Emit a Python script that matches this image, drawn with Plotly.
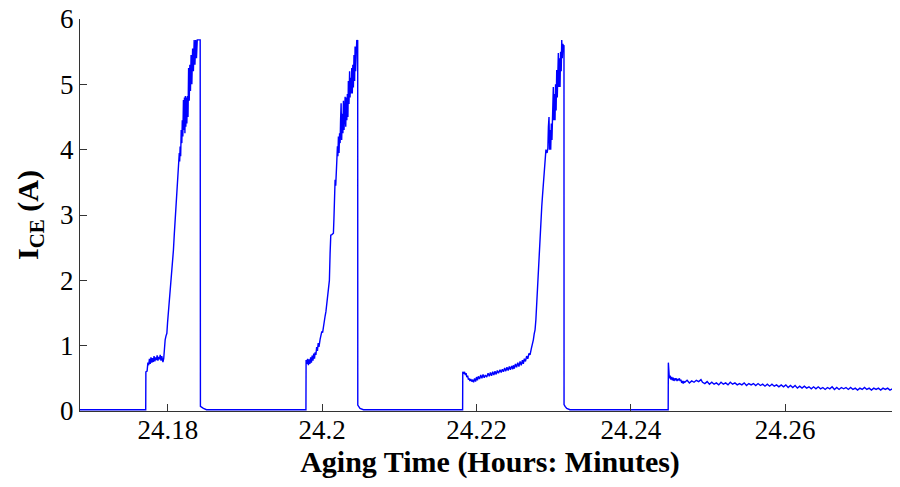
import plotly.graph_objects as go

# ---- data (time in hours, current in A) ----
baseline_start_t = [24.16860, 24.17712]
baseline_start_i = [0.02, 0.02]

pulse1_t = [24.17714, 24.17730, 24.17740, 24.17750, 24.17760, 24.17770, 24.17780, 24.17790,
            24.17800, 24.17810, 24.17820, 24.17830, 24.17840, 24.17850, 24.17860, 24.17870,
            24.17880, 24.17890, 24.17900, 24.17910, 24.17920, 24.17935, 24.17945, 24.17955,
            24.17964, 24.17975, 24.17986, 24.17995, 24.18006, 24.18018, 24.18029, 24.18040,
            24.18051, 24.18061, 24.18071, 24.18082, 24.18093, 24.18104, 24.18115, 24.18125,
            24.18136, 24.18147, 24.18152, 24.18158, 24.18165, 24.18172, 24.18180, 24.18186,
            24.18193, 24.18201, 24.18208, 24.18214, 24.18220, 24.18226, 24.18232, 24.18238,
            24.18245, 24.18252, 24.18260, 24.18268, 24.18276, 24.18284, 24.18292, 24.18300,
            24.18310, 24.18320, 24.18330, 24.18340, 24.18350, 24.18360, 24.18370, 24.18380,
            24.18395, 24.18410, 24.18418, 24.18421, 24.18440, 24.18460, 24.18500]
pulse1_i = [0.60, 0.61, 0.74, 0.70, 0.80, 0.72, 0.82, 0.74,
            0.81, 0.75, 0.84, 0.76, 0.82, 0.78, 0.85, 0.77,
            0.83, 0.79, 0.86, 0.77, 0.84, 0.75, 0.80, 1.00,
            1.09, 1.15, 1.19, 1.35, 1.50, 1.72, 1.90, 1.98,
            2.08, 2.30, 2.46, 2.70, 2.92, 3.15, 3.38, 3.55,
            3.74, 3.95, 3.82, 4.05, 3.90, 4.30, 4.10, 4.45,
            4.20, 4.76, 4.30, 4.80, 4.25, 4.82, 4.35, 4.80,
            4.40, 4.82, 4.50, 5.25, 4.75, 5.30, 4.90, 5.45,
            5.00, 5.55, 5.20, 5.68, 5.30, 5.68, 5.40, 5.68,
            5.68, 5.68, 5.68, 0.07, 0.05, 0.04, 0.02]

pulse2_t = [24.19789, 24.19791, 24.19800, 24.19810, 24.19821, 24.19830, 24.19840, 24.19850,
            24.19860, 24.19870, 24.19880, 24.19890, 24.19900, 24.19908, 24.19918, 24.19928,
            24.19938, 24.19948, 24.19958, 24.19973, 24.19985, 24.19995, 24.20005, 24.20015,
            24.20025, 24.20037, 24.20048, 24.20059, 24.20070, 24.20080, 24.20093, 24.20102,
            24.20111, 24.20125, 24.20145, 24.20152, 24.20158, 24.20167, 24.20175, 24.20182,
            24.20190, 24.20197, 24.20203, 24.20210, 24.20218, 24.20225, 24.20232, 24.20238,
            24.20245, 24.20252, 24.20260, 24.20268, 24.20275, 24.20283, 24.20290, 24.20297,
            24.20305, 24.20312, 24.20319, 24.20326, 24.20333, 24.20339, 24.20347, 24.20355,
            24.20361, 24.20368, 24.20376, 24.20383, 24.20390, 24.20397, 24.20404, 24.20412,
            24.20420, 24.20426, 24.20433, 24.20440, 24.20448, 24.20456, 24.20460, 24.20461,
            24.20469, 24.20490, 24.20534]
pulse2_i = [0.02, 0.78, 0.72, 0.80, 0.70, 0.79, 0.72, 0.82,
            0.74, 0.85, 0.77, 0.88, 0.80, 0.90, 0.86, 0.98,
            0.92, 1.04, 0.98, 1.10, 1.15, 1.22, 1.20, 1.30,
            1.35, 1.45, 1.52, 1.62, 1.72, 1.85, 2.00, 2.41,
            2.69, 2.70, 2.72, 2.95, 3.13, 3.54, 3.45, 3.80,
            3.85, 4.05, 3.90, 4.20, 3.95, 4.25, 4.10, 4.45,
            4.71, 4.15, 4.55, 4.25, 4.75, 4.30, 4.80, 4.81,
            4.35, 4.80, 4.45, 4.85, 4.50, 5.05, 4.70, 5.20,
            4.80, 5.10, 4.86, 5.25, 4.86, 5.30, 4.95, 5.45,
            5.05, 5.58, 5.20, 5.68, 5.68, 5.55, 5.68, 0.09,
            0.07, 0.04, 0.02]

pulse3_t = [24.21820, 24.21822, 24.21835, 24.21845, 24.21855, 24.21865, 24.21874, 24.21885,
            24.21895, 24.21905, 24.21915, 24.21925, 24.21939, 24.21950, 24.21962, 24.21975,
            24.21988, 24.22000, 24.22012, 24.22024, 24.22040, 24.22055, 24.22070, 24.22085,
            24.22100, 24.22115, 24.22133, 24.22150, 24.22165, 24.22180, 24.22195, 24.22210,
            24.22225, 24.22240, 24.22255, 24.22270, 24.22285, 24.22305, 24.22320, 24.22335,
            24.22350, 24.22365, 24.22380, 24.22395, 24.22410, 24.22425, 24.22440, 24.22455,
            24.22470, 24.22478, 24.22490, 24.22505, 24.22520, 24.22535, 24.22550, 24.22565,
            24.22580, 24.22595, 24.22607, 24.22620, 24.22635, 24.22650, 24.22665, 24.22680,
            24.22694, 24.22710, 24.22725, 24.22737, 24.22748, 24.22759, 24.22770, 24.22781,
            24.22792, 24.22802, 24.22813, 24.22824, 24.22835, 24.22846, 24.22856, 24.22867,
            24.22878, 24.22889, 24.22900, 24.22915, 24.22925, 24.22932, 24.22940, 24.22947,
            24.22955, 24.22962, 24.22970, 24.22978, 24.22987, 24.22996, 24.23003, 24.23010,
            24.23018, 24.23025, 24.23032, 24.23040, 24.23047, 24.23054, 24.23061, 24.23068,
            24.23076, 24.23083, 24.23090, 24.23098, 24.23105, 24.23112, 24.23120, 24.23126,
            24.23134, 24.23135, 24.23148, 24.23170, 24.23212]
pulse3_i = [0.02, 0.60, 0.58, 0.60, 0.55, 0.58, 0.52, 0.54,
            0.48, 0.50, 0.46, 0.49, 0.45, 0.48, 0.44, 0.50,
            0.45, 0.52, 0.47, 0.53, 0.49, 0.55, 0.50, 0.56,
            0.51, 0.55, 0.52, 0.58, 0.53, 0.59, 0.54, 0.60,
            0.55, 0.61, 0.56, 0.62, 0.58, 0.63, 0.59, 0.64,
            0.60, 0.66, 0.61, 0.67, 0.62, 0.68, 0.63, 0.69,
            0.64, 0.70, 0.65, 0.72, 0.67, 0.74, 0.68, 0.76,
            0.70, 0.78, 0.72, 0.80, 0.76, 0.84, 0.80, 0.88,
            0.86, 0.95, 1.02, 1.09, 1.18, 1.24, 1.40, 1.65,
            2.00, 2.31, 2.55, 2.72, 2.95, 3.13, 3.30, 3.48,
            3.75, 3.94, 4.00, 3.95, 4.02, 4.35, 4.50, 4.00,
            4.30, 4.00, 4.40, 4.15, 4.80, 4.96, 4.45, 4.85,
            4.45, 5.00, 4.60, 5.22, 4.80, 5.35, 5.48, 4.96,
            5.40, 4.96, 5.50, 5.20, 5.68, 5.40, 5.62, 5.58,
            5.60, 0.10, 0.07, 0.04, 0.02]

pulse4_t = [24.24485, 24.24487, 24.24492, 24.24500, 24.24510, 24.24520, 24.24530, 24.24540,
            24.24550, 24.24560, 24.24570, 24.24580, 24.24590, 24.24600, 24.24610, 24.24620,
            24.24630, 24.24640, 24.24650, 24.24660, 24.24670, 24.24680, 24.24690, 24.24700,
            24.24730, 24.24760, 24.24790, 24.24820, 24.24850, 24.24880, 24.24910, 24.24930,
            24.24960, 24.24990, 24.25020, 24.25050, 24.25080, 24.25110, 24.25140, 24.25170,
            24.25200, 24.25230, 24.25260, 24.25290, 24.25320, 24.25350, 24.25380, 24.25410,
            24.25440, 24.25470, 24.25500, 24.25530, 24.25560, 24.25590, 24.25620, 24.25650,
            24.25680, 24.25710, 24.25740, 24.25770, 24.25800, 24.25830, 24.25860, 24.25890,
            24.25920, 24.25950, 24.25980, 24.26010, 24.26040, 24.26070, 24.26100, 24.26130,
            24.26160, 24.26190, 24.26220, 24.26250, 24.26280, 24.26310, 24.26340, 24.26370,
            24.26400, 24.26430, 24.26460, 24.26490, 24.26520, 24.26550, 24.26580, 24.26610,
            24.26640, 24.26670, 24.26700, 24.26730, 24.26760, 24.26790, 24.26820, 24.26850,
            24.26880, 24.26910, 24.26940, 24.26970, 24.27000, 24.27030, 24.27060, 24.27090,
            24.27120, 24.27150, 24.27180, 24.27210, 24.27240, 24.27270, 24.27300, 24.27330,
            24.27360, 24.27390, 24.27420, 24.27450, 24.27480, 24.27500]
pulse4_i = [0.02, 0.74, 0.55, 0.50, 0.54, 0.48, 0.52, 0.47,
            0.51, 0.46, 0.50, 0.47, 0.50, 0.46, 0.49, 0.47,
            0.50, 0.46, 0.48, 0.43, 0.46, 0.42, 0.45, 0.44,
            0.47, 0.43, 0.46, 0.44, 0.47, 0.45, 0.48, 0.44,
            0.42, 0.45, 0.41, 0.44, 0.41, 0.43, 0.40, 0.44,
            0.41, 0.43, 0.40, 0.44, 0.41, 0.43, 0.40, 0.42,
            0.40, 0.43, 0.39, 0.42, 0.40, 0.42, 0.39, 0.42,
            0.39, 0.41, 0.38, 0.41, 0.38, 0.41, 0.38, 0.40,
            0.37, 0.40, 0.37, 0.40, 0.36, 0.39, 0.36, 0.39,
            0.35, 0.38, 0.35, 0.38, 0.35, 0.37, 0.34, 0.37,
            0.34, 0.37, 0.34, 0.36, 0.33, 0.36, 0.34, 0.37,
            0.33, 0.36, 0.33, 0.36, 0.34, 0.36, 0.33, 0.36,
            0.33, 0.35, 0.32, 0.35, 0.33, 0.36, 0.33, 0.35,
            0.32, 0.35, 0.33, 0.35, 0.32, 0.35, 0.33, 0.35,
            0.32, 0.34, 0.32, 0.35, 0.33, 0.34]

x_ticks = [24.18, 24.20, 24.22, 24.24, 24.26]
x_tick_labels = ["24.18", "24.2", "24.22", "24.24", "24.26"]
y_ticks = [0, 1, 2, 3, 4, 5, 6]

time_h = baseline_start_t + pulse1_t + pulse2_t + pulse3_t + pulse4_t
current_a = baseline_start_i + pulse1_i + pulse2_i + pulse3_i + pulse4_i

FONT = "Liberation Serif"

fig = go.Figure()
fig.add_trace(go.Scatter(x=time_h, y=current_a, mode="lines",
                         line=dict(color="#0000FF", width=1.4), showlegend=False))

# the page body has an 8 px margin, so the figure is 892x479 to fill the 900x487 window
fig.update_layout(
    width=892, height=479,
    margin=dict(l=72, r=0, t=11, b=76, autoexpand=False),
    paper_bgcolor="white", plot_bgcolor="white",
    font=dict(family=FONT, color="black"),
    xaxis=dict(range=[24.1686, 24.2749], tickvals=x_ticks, ticktext=x_tick_labels,
               ticks="inside", ticklen=7, tickcolor="#333333", tickwidth=1,
               showline=True, linecolor="#333333", linewidth=1.3,
               showgrid=False, zeroline=False, automargin=False,
               ticklabelstandoff=-6, ticklabeloverflow="allow",
               tickfont=dict(family=FONT, size=27, color="black"),
               title=dict(text="<b>Aging Time (Hours: Minutes)</b>", standoff=4,
                          font=dict(family=FONT, size=30, color="black"))),
    yaxis=dict(range=[0, 6], tickvals=y_ticks,
               ticks="inside", ticklen=7, tickcolor="#333333", tickwidth=1,
               showline=True, linecolor="#333333", linewidth=1.3,
               showgrid=False, zeroline=False, automargin=False,
               ticklabeloverflow="allow",
               tickfont=dict(family=FONT, size=27, color="black"),
               title=dict(text="<b>I<sub>CE</sub> (A)</b>", standoff=12,
                          font=dict(family=FONT, size=30, color="black"))),
)

fig.write_html("out.html")
